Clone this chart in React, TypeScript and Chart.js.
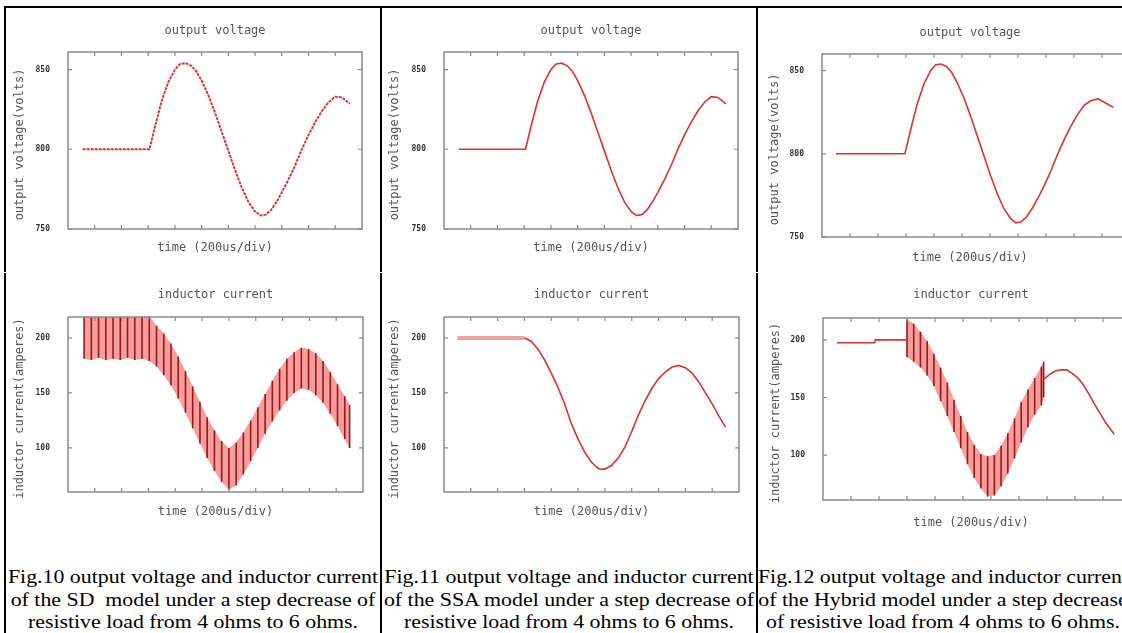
import React, { useEffect, useRef } from 'react';
import { Chart, registerables } from 'chart.js';
Chart.register(...registerables);

// ---------- data (x in divisions of 200 us) ----------
const xDivTicks = [1, 2, 3, 4, 5, 6, 7, 8, 9, 10];
const voltTicks = [750, 800, 850];
const currTicks = [100, 150, 200];

const vTime = [0.55, 3.05, 3.25, 3.5, 3.75, 4.0, 4.2, 4.4, 4.6, 4.8, 5.0, 5.25, 5.5, 5.75, 6.0, 6.25, 6.5, 6.75, 7.0, 7.2, 7.4, 7.6, 7.8, 8.0, 8.25, 8.5, 8.75, 9.0, 9.25, 9.5, 9.75, 10.0, 10.25, 10.55];
const vSD = [800, 800, 814, 830, 842, 850, 853.5, 854, 852.5, 849, 843, 834, 823, 811, 799, 787, 776, 767, 761, 758.5, 759, 762, 767, 773, 781, 790, 800, 809, 817, 824, 829.5, 833, 832.5, 828.5];
const vSSA = [800, 800, 814, 830, 842, 850, 853.5, 854, 852.5, 849, 843, 834, 823, 811, 799, 787, 776, 767, 761, 758.5, 759, 762, 767, 773, 781, 790, 800, 809, 817, 824, 829.5, 833, 832.5, 828.5];
const vHybTime = [0.5, 2.96, 3.16, 3.4, 3.64, 3.88, 4.06, 4.25, 4.44, 4.63, 4.82, 5.06, 5.3, 5.54, 5.78, 6.02, 6.26, 6.5, 6.74, 6.92, 7.1, 7.3, 7.5, 7.7, 7.94, 8.18, 8.42, 8.66, 8.9, 9.14, 9.38, 9.62, 9.86, 10.4];
const vHybrid = [800, 800, 814, 830, 842, 850, 853.5, 854, 852.5, 849, 843, 834, 823, 811, 799, 787, 776, 767, 761, 758.5, 759, 762, 767, 773, 781, 790, 800, 809, 817, 824, 829.5, 832, 833, 828];

// SD inductor current: switching ripple (upper / lower envelope of each tooth)
const sdTeethTime = [0.6, 0.87, 1.14, 1.41, 1.68, 1.95, 2.22, 2.49, 2.76, 3.03, 3.3, 3.57, 3.84, 4.11, 4.38, 4.65, 4.92, 5.19, 5.46, 5.73, 6.0, 6.27, 6.54, 6.81, 7.08, 7.35, 7.62, 7.89, 8.16, 8.43, 8.7, 8.97, 9.24, 9.51, 9.78, 10.05, 10.32, 10.5];
const sdHigh = [222, 222, 222, 222, 222, 222, 222, 222, 221, 220, 211, 204, 195, 183, 170, 156, 142, 128, 116, 106, 100, 105, 114, 125, 137, 149, 161, 172, 181, 187, 191, 190, 186, 179, 169, 158, 147, 139];
const sdLow = [181, 180, 182, 180, 181, 180, 182, 180, 181, 179, 174, 166, 157, 145, 132, 118, 104, 91, 79, 69, 62, 66, 76, 88, 100, 113, 124, 134, 143, 150, 154, 153, 148, 141, 131, 120, 108, 100];

// SSA inductor current
const ssaFlatTime = [0.5, 3.0];
const ssaFlat = [200, 200];
const ssaTime = [3.0, 3.25, 3.5, 3.75, 4.0, 4.25, 4.5, 4.75, 5.0, 5.25, 5.5, 5.75, 5.85, 6.0, 6.25, 6.5, 6.75, 7.0, 7.25, 7.5, 7.75, 8.0, 8.25, 8.5, 8.75, 9.0, 9.25, 9.5, 9.75, 10.0, 10.25, 10.5];
const ssaCurrent = [200, 197, 190, 180, 168, 155, 140, 122, 108, 96, 87, 81.5, 80.5, 81, 84, 91, 101, 115, 130, 143, 154, 163, 169, 173.5, 175, 173, 168, 160, 150, 140, 129, 119];

// Hybrid inductor current
const hyFlatTime = [0.5, 1.85, 1.87, 2.98];
const hyFlat = [197.5, 197.5, 200, 200];
const hyTeethTime = [3.0, 3.24, 3.48, 3.72, 3.96, 4.2, 4.44, 4.68, 4.92, 5.16, 5.4, 5.64, 5.88, 6.12, 6.36, 6.6, 6.84, 7.08, 7.32, 7.56, 7.8, 7.88];
const hyHigh = [218, 214, 207, 199, 188, 176, 163, 148, 134, 120, 109, 101, 99, 100, 108, 119, 132, 146, 157, 167, 177, 181];
const hyLow = [185, 181, 176, 169, 160, 147, 134, 120, 106, 92, 80, 71, 64, 65, 73, 84, 97, 111, 124, 135, 143, 150];
const hyTailTime = [7.88, 8.1, 8.3, 8.5, 8.7, 8.9, 9.1, 9.3, 9.5, 9.7, 9.9, 10.1, 10.4];
const hyTail = [166, 170, 173, 174, 174, 171, 167, 161, 153, 144, 136, 128, 118];

// ---------- helpers ----------
const RED = '#dd3030';
const PINK = 'rgba(244,140,140,0.85)';
const DARK = '#9c1818';
const Y_AXIS_W = 50;
const pts = (xs: number[], ys: number[]) => xs.map((x, i) => ({ x, y: ys[i] }));
const strokes = (xs: number[], lo: number[], hi: number[]) =>
  xs.flatMap((x, i) => [{ x, y: lo[i] }, { x, y: hi[i] }, { x, y: null as any }]);

const lineDs = (data: any[], extra: any = {}) => ({
  type: 'line', data, borderColor: RED, borderWidth: 1.6, pointRadius: 0, tension: 0, fill: false, ...extra,
});

const rippleSets = (xs: number[], lo: number[], hi: number[]) => [
  lineDs(strokes(xs, lo, hi), { borderColor: DARK, borderWidth: 1.6, spanGaps: false, order: 0 }),
  lineDs(pts(xs, hi), { borderWidth: 0, borderColor: 'rgba(0,0,0,0)', backgroundColor: PINK, fill: '+1', order: 2 }),
  lineDs(pts(xs, lo), { borderWidth: 0, borderColor: 'rgba(0,0,0,0)', order: 3 }),
];

const framePlugin = {
  id: 'gnuFrame',
  afterDraw(chart: any, _args: any, o: any) {
    const { ctx, chartArea: a } = chart;
    const xs = chart.scales.x, ys = chart.scales.y;
    ctx.save();
    ctx.strokeStyle = '#8a8a8a';
    ctx.lineWidth = 1.5;
    ctx.strokeRect(a.left, a.top, a.right - a.left, a.bottom - a.top);
    ctx.lineWidth = 1.2;
    ctx.beginPath();
    xs.ticks.forEach((t: any) => {
      const px = xs.getPixelForValue(t.value);
      ctx.moveTo(px, a.bottom); ctx.lineTo(px, a.bottom - 4);
      ctx.moveTo(px, a.top); ctx.lineTo(px, a.top + 4);
    });
    ys.ticks.forEach((t: any) => {
      const py = ys.getPixelForValue(t.value);
      ctx.moveTo(a.left, py); ctx.lineTo(a.left + 4, py);
      ctx.moveTo(a.right, py); ctx.lineTo(a.right - 4, py);
    });
    ctx.stroke();
    ctx.fillStyle = '#555';
    ctx.font = '12px "DejaVu Sans Mono", monospace';
    ctx.textAlign = 'center';
    ctx.textBaseline = 'middle';
    const cx = (a.left + a.right) / 2;
    ctx.fillText(o.title, cx + (o.titleDx || 0), a.top - o.titleOff);
    ctx.fillText(o.xTitle, cx + (o.titleDx || 0), a.bottom + o.xTitleOff);
    ctx.translate(a.left - o.yTitleOff, (a.top + a.bottom) / 2 + 4);
    ctx.rotate(-Math.PI / 2);
    ctx.fillText(o.yTitle, 0, 0);
    ctx.restore();
  },
};

type Spec = {
  canvas: number[]; plot: number[]; yMin: number; yMax: number; yTicks: number[];
  datasets: any[]; title: string; yTitle: string; titleOff: number; xTitleOff: number; yTitleOff: number; titleDx?: number;
};

const specs: Spec[] = [
  {
    canvas: [6, 9, 373, 262], plot: [68, 52, 362, 229], yMin: 750, yMax: 861, yTicks: voltTicks,
    datasets: [lineDs(pts(vTime, vSD), { borderDash: [3, 1], borderWidth: 1.9 })],
    title: 'output voltage', yTitle: 'output voltage(volts)', titleOff: 21, xTitleOff: 19, yTitleOff: 48,
  },
  {
    canvas: [6, 273, 373, 260], plot: [68, 317, 363, 492], yMin: 60, yMax: 219, yTicks: currTicks,
    datasets: rippleSets(sdTeethTime, sdLow, sdHigh),
    title: 'inductor current', yTitle: 'inductor current(amperes)', titleOff: 22, xTitleOff: 20, yTitleOff: 48,
  },
  {
    canvas: [382, 9, 373, 262], plot: [444, 52, 738, 229], yMin: 750, yMax: 861, yTicks: voltTicks,
    datasets: [lineDs(pts(vTime, vSSA))],
    title: 'output voltage', yTitle: 'output voltage(volts)', titleOff: 21, xTitleOff: 19, yTitleOff: 49,
  },
  {
    canvas: [382, 273, 373, 260], plot: [444, 317, 739, 492], yMin: 60, yMax: 219, yTicks: currTicks,
    datasets: [
      lineDs(pts(ssaTime, ssaCurrent), { order: 0 }),
      lineDs(pts(ssaFlatTime, ssaFlat), { borderColor: 'rgba(244,150,150,0.9)', borderWidth: 4, order: 1 }),
    ],
    title: 'inductor current', yTitle: 'inductor current(amperes)', titleOff: 22, xTitleOff: 20, yTitleOff: 49,
  },
  {
    canvas: [758, 9, 400, 262], plot: [822, 54, 1130, 237], yMin: 750, yMax: 860, yTicks: voltTicks,
    datasets: [lineDs(pts(vHybTime, vHybrid))],
    title: 'output voltage', yTitle: 'output voltage(volts)', titleOff: 21, xTitleOff: 21, yTitleOff: 47, titleDx: -6,
  },
  {
    canvas: [758, 273, 400, 270], plot: [823, 318, 1131, 500], yMin: 61, yMax: 219, yTicks: currTicks,
    datasets: [
      lineDs(pts(hyFlatTime, hyFlat), { order: 0 }),
      lineDs(pts(hyTailTime, hyTail), { order: 0 }),
      ...rippleSets(hyTeethTime, hyLow, hyHigh),
    ],
    title: 'inductor current', yTitle: 'inductor current(amperes)', titleOff: 23, xTitleOff: 23, yTitleOff: 47, titleDx: -6,
  },
];

const captions = [
  { cx: 192.5, lines: ['Fig.10 output voltage and inductor current', 'of the SD  model under a step decrease of', 'resistive load from 4 ohms to 6 ohms.'] },
  { cx: 568.5, lines: ['Fig.11 output voltage and inductor current', 'of the SSA model under a step decrease of', 'resistive load from 4 ohms to 6 ohms.'] },
  { cx: 942.5, lines: ['Fig.12 output voltage and inductor current', 'of the Hybrid model under a step decrease', 'of resistive load from 4 ohms to 6 ohms.'] },
];

function Plot({ spec }: { spec: Spec }) {
  const ref = useRef<HTMLCanvasElement>(null);
  useEffect(() => {
    const [cxp, cyp, w, h] = spec.canvas;
    const [l, t, r, b] = spec.plot;
    const chart = new Chart(ref.current as HTMLCanvasElement, {
      type: 'line',
      data: { datasets: spec.datasets },
      plugins: [framePlugin],
      options: {
        animation: false,
        responsive: false,
        devicePixelRatio: 1,
        layout: { padding: { left: l - cxp - Y_AXIS_W, top: t - cyp, right: cxp + w - r, bottom: cyp + h - b } },
        plugins: {
          legend: { display: false },
          tooltip: { enabled: false },
          gnuFrame: {
            title: spec.title, xTitle: 'time (200us/div)', yTitle: spec.yTitle,
            titleOff: spec.titleOff, xTitleOff: spec.xTitleOff, yTitleOff: spec.yTitleOff, titleDx: spec.titleDx,
          },
        } as any,
        scales: {
          x: {
            type: 'linear', min: 0, max: 11,
            grid: { display: false }, border: { display: false },
            ticks: { display: false },
            afterBuildTicks: (s: any) => { s.ticks = xDivTicks.map((v) => ({ value: v })); },
            afterFit: (s: any) => { s.height = 0; },
          },
          y: {
            type: 'linear', min: spec.yMin, max: spec.yMax,
            grid: { display: false }, border: { display: false },
            ticks: {
              padding: 10, color: '#333', font: { family: '"DejaVu Sans Mono", monospace', size: 8, weight: 'bold' },
              callback: (v: any) => String(v),
            },
            afterBuildTicks: (s: any) => { s.ticks = spec.yTicks.map((v) => ({ value: v })); },
            afterFit: (s: any) => { s.width = Y_AXIS_W; },
          },
        },
      } as any,
    });
    return () => chart.destroy();
  }, [spec]);
  const [x, y, w, h] = spec.canvas;
  return (
    <canvas ref={ref} width={w} height={h}
      style={{ position: 'absolute', left: x, top: y, width: w, height: h }} />
  );
}

export default function App() {
  const vline = (x: number) => [
    <div key={x + 'a'} style={{ position: 'absolute', left: x, top: 6, width: 2, height: 266, background: '#000' }} />,
    <div key={x + 'b'} style={{ position: 'absolute', left: x, top: 273, width: 2, height: 360, background: '#000' }} />,
  ];
  return (
    <div style={{ position: 'absolute', left: 0, top: 0, width: 1122, height: 633, overflow: 'hidden', background: '#fff' }}>
      {specs.map((s, i) => <Plot key={i} spec={s} />)}
      <div style={{ position: 'absolute', left: 4, top: 6, width: 1118, height: 2, background: '#000' }} />
      {vline(4)}
      {vline(380)}
      {vline(756)}
      {captions.map((c, i) => (
        <div key={i} style={{
          position: 'absolute', left: c.cx - 250, top: 566, width: 500, textAlign: 'center',
          fontFamily: '"Liberation Serif", "Times New Roman", serif', fontSize: 19, lineHeight: '22.5px',
          color: '#000', transform: 'scaleX(1.15)', transformOrigin: '50% 0', whiteSpace: 'pre',
        }}>
          {c.lines.map((ln, j) => <div key={j}>{ln}</div>)}
        </div>
      ))}
    </div>
  );
}
